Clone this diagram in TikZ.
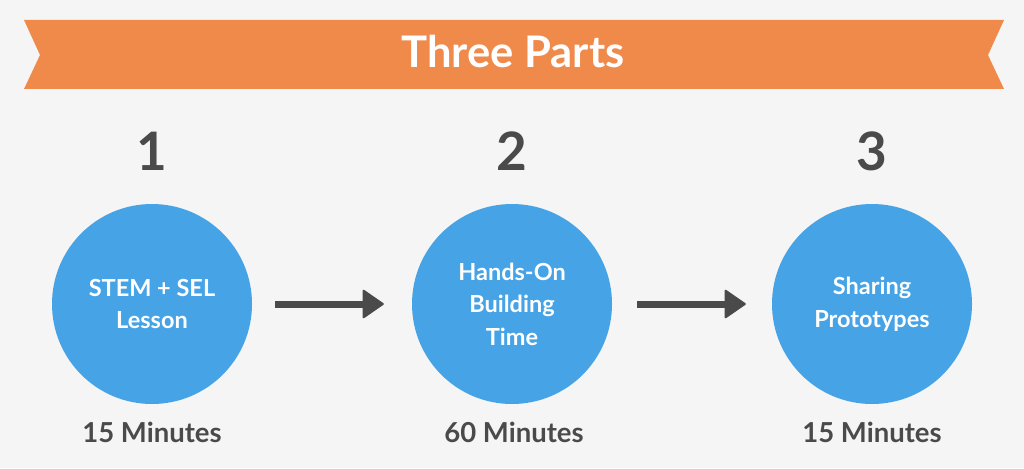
\documentclass[tikz,border=0pt]{standalone}
\usepackage{fontspec}
\setmainfont{Lato}
\usetikzlibrary{arrows.meta}
\definecolor{bg}{HTML}{F5F5F5}
\definecolor{bannerorange}{HTML}{F08A4B}
\definecolor{circleblue}{HTML}{46A3E6}
\definecolor{darktext}{HTML}{4A4A4A}
\begin{document}
\begin{tikzpicture}[x=1pt,y=-1pt,
  circ/.style={circle,fill=circleblue,minimum size=200pt,inner sep=0pt,text=white,
    font=\bfseries\fontsize{23.5}{32.5}\selectfont,align=center},
  num/.style={text=darktext,anchor=base,font=\bfseries\fontsize{53}{53}\selectfont},
  mins/.style={text=darktext,anchor=base,font=\bfseries\fontsize{27.5}{27.5}\selectfont},
  flow/.style={draw=darktext,line width=7pt,
    -{Triangle[length=22pt,width=30pt,round,line width=2pt]}}]
\fill[bg] (0,0) rectangle (1024,468);
\fill[bannerorange] (24,20) -- (1004,20) -- (988,55) -- (1004,89) -- (24,89) -- (40,55) -- cycle;
\node[anchor=base,text=white,font=\bfseries\fontsize{43.5}{43.5}\selectfont] (title) at (513,68) {Three Parts};
\node[num] (n1) at (152,170) {1};
\node[num] (n2) at (512,170) {2};
\node[num] (n3) at (872,170) {3};
\node[circ] (c1) at (152,304) {STEM + SEL\\Lesson};
\node[circ] (c2) at (512,304) {Hands-On\\Building\\Time};
\node[circ] (c3) at (872,304) {Sharing\\Prototypes};
\node[mins] (m1) at (152,442) {15 Minutes};
\node[mins] (m2) at (514,442) {60 Minutes};
\node[mins] (m3) at (872,442) {15 Minutes};
\draw[flow,shorten <=23pt,shorten >=28pt] (c1) -- (c2);
\draw[flow,shorten <=25pt,shorten >=26pt] (c2) -- (c3);
\end{tikzpicture}
\end{document}
